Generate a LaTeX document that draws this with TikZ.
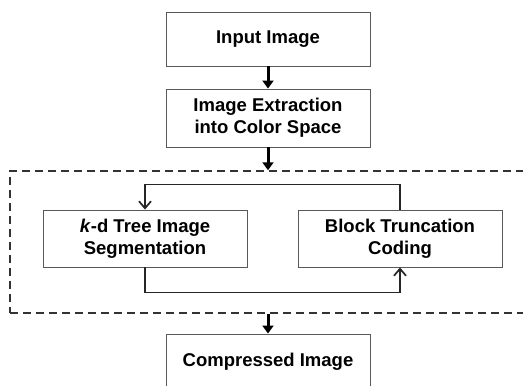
\documentclass[tikz,border=0pt]{standalone}
\usepackage{fontspec}
\setmainfont{Liberation Sans}
\usetikzlibrary{arrows.meta}
\begin{document}
\begin{tikzpicture}[x=1pt,y=-1pt,
    box/.style={draw=black!65, line width=0.9pt, fill=white, minimum width=204pt, align=center,
        font=\fontsize{18.5}{22}\selectfont\bfseries},
    flow/.style={line width=3pt, -{Triangle[length=8pt,width=11pt]}},
    loopline/.style={line width=1.7pt, draw=black!85, -{Straight Barb[length=7pt,width=12pt]}}]
    \useasboundingbox (0,0) rectangle (523,386);
    \clip (0,0) rectangle (523,386);
    \node[box,minimum height=54pt] (input) at (268,39) {Input Image};
    \node[box,minimum height=58pt] (extract) at (268,118) {Image Extraction\\into Color Space};
    \node[draw=black!80, dashed, line width=1.5pt, dash pattern=on 8pt off 5pt,
        minimum width=524pt, minimum height=142pt] (group) at (272,242) {};
    \node[box,minimum height=57pt] (kdtree) at (145,238.5) {\textit{k}-d Tree Image\\Segmentation};
    \node[box,minimum height=57pt] (btc) at (400,238.5) {Block Truncation\\Coding};
    \node[box,minimum height=56pt] (compressed) at (268,362) {Compressed Image};
    \draw[flow] (input) -- (extract);
    \draw[flow] (extract) -- (extract.south |- group.north);
    \draw[flow] (compressed.north |- group.south) -- (compressed);
    \draw[loopline] (btc.north) -- ++(0,-25) -| (kdtree.north);
    \draw[loopline] (kdtree.south) -- ++(0,25) -| (btc.south);
\end{tikzpicture}
\end{document}
